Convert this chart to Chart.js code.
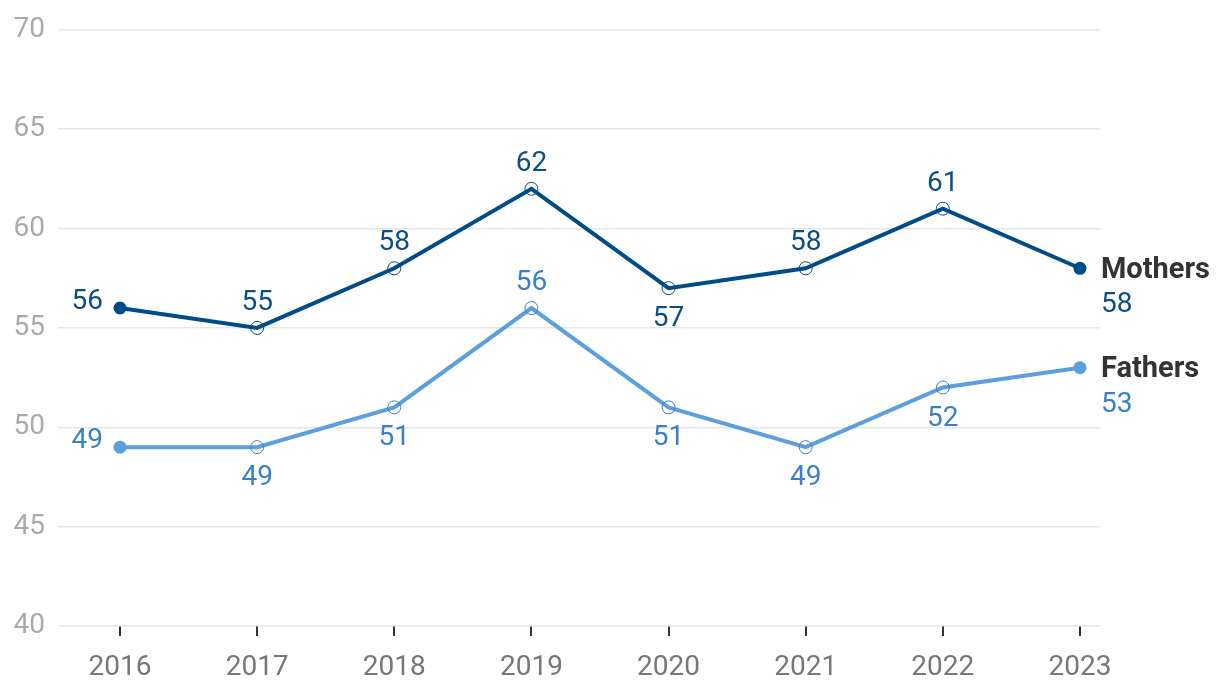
<!DOCTYPE html>
<html>
<head>
<meta charset="utf-8">
<script src="https://cdn.jsdelivr.net/npm/chart.js@4"></script>
<style>
  html, body { margin: 0; padding: 0; background: #fff; }
  #wrap { width: 1220px; height: 694px; }
</style>
</head>
<body>
<div id="wrap"><canvas id="myChart" width="1220" height="694"></canvas></div>
<script>
const years = [2016, 2017, 2018, 2019, 2020, 2021, 2022, 2023];
const mothers = [56, 55, 58, 62, 57, 58, 61, 58];
const fathers = [49, 49, 51, 56, 51, 49, 52, 53];
const yTicks = [40, 45, 50, 55, 60, 65, 70];

// where each value label sits relative to its point
const mothersPlace = ['left', 'above', 'above', 'above', 'below', 'above', 'above', 'end'];
const fathersPlace = ['left', 'below', 'below', 'above', 'below', 'below', 'below', 'end'];

const darkBlue = '#004c89';
const lightBlue = '#5b9fdf';
const FONT = 'Roboto, "Liberation Sans", sans-serif';

function pts(values) {
    return values.map((v, i) => ({ x: years[i], y: v }));
}

function isEnd(ctx) {
    return ctx.dataIndex === 0 || ctx.dataIndex === years.length - 1;
}

const labelPlugin = {
    id: 'valueLabels',
    afterDatasetsDraw(chart) {
        const c = chart.ctx;
        chart.data.datasets.forEach((ds, di) => {
            const meta = chart.getDatasetMeta(di);
            meta.data.forEach((p, i) => {
                const where = ds.place[i];
                const val = String(ds.data[i].y);
                c.save();
                c.font = '400 28px ' + FONT;
                c.fillStyle = ds.textColor;
                c.textBaseline = 'middle';
                if (where === 'left') {
                    c.textAlign = 'right';
                    c.fillText(val, p.x - 17, p.y - 6);
                } else if (where === 'above') {
                    c.textAlign = 'center';
                    c.fillText(val, p.x, p.y - 25);
                } else if (where === 'below') {
                    c.textAlign = 'center';
                    c.fillText(val, p.x, p.y + 31);
                } else {
                    c.textAlign = 'left';
                    c.fillText(val, p.x + 21, p.y + 37);
                    c.font = '700 29px ' + FONT;
                    c.fillStyle = '#333';
                    c.fillText(ds.label, p.x + 21, p.y + 2);
                }
                c.restore();
            });
        });
    }
};

let myChart = document.getElementById('myChart').getContext('2d');
let lineChart = new Chart(myChart, {
    type: 'line',
    data: {
        datasets: [{
            label: 'Mothers',
            data: pts(mothers),
            place: mothersPlace,
            textColor: '#0b4d85',
            borderColor: darkBlue,
            borderWidth: 4,
            pointRadius: ctx => isEnd(ctx) ? 6.5 : 6.5,
            pointHoverRadius: 6.5,
            pointBorderWidth: ctx => isEnd(ctx) ? 0 : 1,
            pointBorderColor: darkBlue,
            pointBackgroundColor: ctx => isEnd(ctx) ? darkBlue : 'rgba(255,255,255,0)',
            tension: 0
        }, {
            label: 'Fathers',
            data: pts(fathers),
            place: fathersPlace,
            textColor: '#3a80c6',
            borderColor: lightBlue,
            borderWidth: 4,
            pointRadius: ctx => isEnd(ctx) ? 6.5 : 6.5,
            pointHoverRadius: 6.5,
            pointBorderWidth: ctx => isEnd(ctx) ? 0 : 1,
            pointBorderColor: '#3a80c6',
            pointBackgroundColor: ctx => isEnd(ctx) ? lightBlue : 'rgba(255,255,255,0)',
            tension: 0
        }]
    },
    options: {
        responsive: false,
        animation: false,
        layout: { padding: { top: 24, right: 120, bottom: 10, left: 10 } },
        plugins: {
            legend: { display: false },
            tooltip: { enabled: false }
        },
        scales: {
            x: {
                type: 'linear',
                min: 2015.548,
                max: 2023.146,
                afterBuildTicks: axis => { axis.ticks = years.map(y => ({ value: y })); },
                afterFit: axis => { axis.height = 58; },
                grid: { drawOnChartArea: false, drawTicks: true, tickLength: 10, color: '#333', lineWidth: 2 },
                border: { display: false },
                ticks: {
                    padding: 15,
                    color: '#777',
                    font: { family: FONT, size: 28 },
                    callback: v => String(v),
                    maxRotation: 0
                }
            },
            y: {
                min: 40,
                max: 70,
                afterBuildTicks: axis => { axis.ticks = yTicks.map(v => ({ value: v })); },
                afterFit: axis => { axis.width = 48; },
                grid: { color: '#e6e6e6', lineWidth: 1.5, drawTicks: false },
                border: { display: false },
                ticks: {
                    padding: 13,
                    color: '#aaa',
                    font: { family: FONT, size: 28 }
                }
            }
        }
    },
    plugins: [labelPlugin]
});
</script>
</body>
</html>
